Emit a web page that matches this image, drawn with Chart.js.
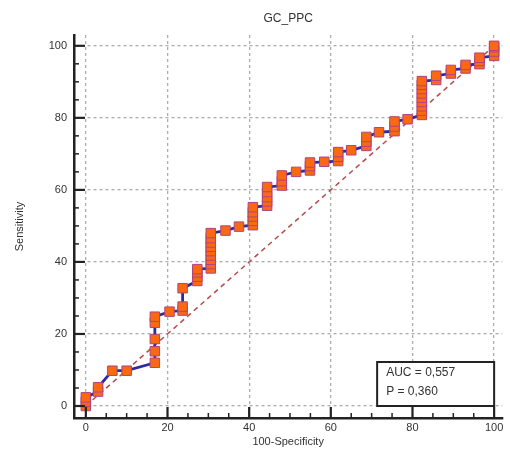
<!DOCTYPE html>
<html>
<head>
<meta charset="utf-8">
<script src="https://cdn.jsdelivr.net/npm/chart.js@4.4.1/dist/chart.umd.min.js"></script>
<style>
  body { margin: 0; background: #fff; }
  canvas { display: block; }
</style>
</head>
<body>
<canvas id="rocChart" width="510" height="455"></canvas>
<script>
// 100-Specificity / Sensitivity pairs
const fpr = [0, 0, 0, 3, 3, 6.5, 10, 16.9, 16.9, 16.9, 16.9, 16.9, 20.5, 23.7, 23.7, 23.7,
    27.3, 27.3, 27.3, 27.3, 30.6, 30.6, 30.6, 30.6, 30.6, 30.6, 30.6, 30.6, 30.6,
    34.2, 37.5, 40.9, 40.9, 40.9, 40.9, 40.9, 44.4, 44.4, 44.4, 44.4, 44.4,
    48, 48, 48, 51.5, 54.9, 54.9, 54.9, 58.4, 61.8, 61.8, 61.8, 65, 68.7, 68.7, 68.7,
    71.8, 75.6, 75.6, 75.6, 78.8, 82.3, 82.3, 82.3, 82.3, 82.3, 82.3, 82.3, 82.3, 82.3,
    85.8, 85.8, 89.4, 89.4, 93, 93, 96.4, 96.4, 96.4, 100, 100, 100, 100];
const sens = [0, 1.2, 2.4, 4.0, 5.2, 9.8, 9.8, 12.0, 15.2, 18.6, 23.1, 24.8, 26.2, 26.5, 27.6, 32.7,
    34.7, 35.9, 37.1, 38.0, 38.2, 39.4, 40.6, 41.8, 43.0, 44.2, 45.4, 46.6, 48.0,
    48.7, 49.8, 50.2, 51.4, 52.6, 53.8, 55.2, 55.6, 56.8, 58.0, 59.4, 60.8,
    61.2, 62.4, 64.0, 65.0, 65.4, 66.6, 67.6, 67.8, 68.0, 69.2, 70.5, 71.0, 72.2, 73.4, 74.7,
    76.0, 76.3, 77.6, 79.0, 79.6, 80.8, 82.0, 83.2, 84.4, 85.6, 86.8, 88.0, 89.2, 90.2,
    90.5, 91.7, 92.3, 93.3, 93.7, 94.7, 94.9, 95.8, 96.7, 97.2, 98.4, 99.6, 100];
const diagX = [0, 100];
const diagY = [0, 100];

const xTicks = [0, 20, 40, 60, 80, 100];
const yTicks = [0, 20, 40, 60, 80, 100];
const chartTitle = 'GC_PPC';
const aucLines = ['AUC = 0,557', 'P = 0,360'];

const FONT = 'Liberation Sans, Arial, sans-serif';
const gridColor = '#adadad';
const axisColor = '#222';

// inward tick marks, major every 20 and minor every 5
const axisTicks = {
    id: 'axisTicks',
    afterDraw(chart) {
        const ctx = chart.ctx;
        const xs = chart.scales.x, ys = chart.scales.y;
        ctx.save();
        ctx.strokeStyle = axisColor;
        for (let v = 0; v <= 100; v += 5) {
            const major = xTicks.includes(v);
            const len = major ? 11 : 5;
            ctx.lineWidth = major ? 2.2 : 1.5;
            const px = xs.getPixelForValue(v);
            ctx.beginPath();
            ctx.moveTo(px, ys.bottom);
            ctx.lineTo(px, ys.bottom - len);
            ctx.stroke();
            const py = ys.getPixelForValue(v);
            ctx.beginPath();
            ctx.moveTo(xs.left, py);
            ctx.lineTo(xs.left + len, py);
            ctx.stroke();
        }
        ctx.restore();
    }
};

// title over the plot area and the AUC box
const extras = {
    id: 'extras',
    afterDraw(chart) {
        const ctx = chart.ctx;
        const area = chart.chartArea;
        const xs = chart.scales.x, ys = chart.scales.y;
        ctx.save();
        ctx.fillStyle = '#333';
        ctx.font = '12px ' + FONT;
        ctx.textAlign = 'center';
        ctx.textBaseline = 'middle';
        ctx.fillText(chartTitle, (area.left + area.right) / 2, 19);

        const right = xs.getPixelForValue(100);
        const bottom = ys.getPixelForValue(0);
        const w = 117, h = 44;
        ctx.fillStyle = '#fff';
        ctx.fillRect(right - w, bottom - h, w, h);
        ctx.strokeStyle = axisColor;
        ctx.lineWidth = 2;
        ctx.strokeRect(right - w, bottom - h, w, h);
        ctx.fillStyle = '#333';
        ctx.font = '12px ' + FONT;
        ctx.textAlign = 'left';
        aucLines.forEach((t, i) => {
            ctx.fillText(t, right - w + 9, bottom - h + 11 + i * 19);
        });
        ctx.restore();
    }
};

const rocPoints = fpr.map((x, i) => ({ x: x, y: sens[i] }));
const diagPoints = diagX.map((x, i) => ({ x: x, y: diagY[i] }));

new Chart(document.getElementById('rocChart').getContext('2d'), {
    type: 'scatter',
    data: {
        datasets: [{
            label: 'ROC',
            data: rocPoints,
            showLine: true,
            borderColor: '#2b2ba6',
            borderWidth: 2.8,
            pointStyle: 'rect',
            pointRadius: 6.7,
            pointBackgroundColor: '#fb6812',
            pointBorderColor: '#b0447c',
            pointBorderWidth: 1,
            tension: 0,
            order: 1
        }, {
            label: 'Reference',
            data: diagPoints,
            showLine: true,
            borderColor: '#b84a4a',
            borderWidth: 1.5,
            borderDash: [5, 4],
            pointRadius: 0,
            order: 2
        }]
    },
    options: {
        responsive: false,
        animation: false,
        layout: { padding: { top: 35, right: 5, left: 0, bottom: 0 } },
        plugins: {
            legend: { display: false },
            tooltip: { enabled: false },
            title: { display: false }
        },
        scales: {
            x: {
                type: 'linear',
                min: -2.9,
                max: 102,
                afterBuildTicks: s => { s.ticks = xTicks.map(v => ({ value: v })); },
                afterFit: s => { s.height = 37; },
                grid: { color: gridColor, lineWidth: 1.3, drawTicks: false },
                border: { display: true, color: axisColor, width: 2.5, dash: [3, 3] },
                ticks: { color: '#333', font: { family: FONT, size: 11 }, padding: 3, maxRotation: 0 },
                title: {
                    display: true, text: '100-Specificity', color: '#333',
                    font: { family: FONT, size: 11 }, padding: { top: 0, bottom: 6 }
                }
            },
            y: {
                type: 'linear',
                min: -3.33,
                max: 103,
                afterBuildTicks: s => { s.ticks = yTicks.map(v => ({ value: v })); },
                afterFit: s => { s.width = 74; },
                grid: { color: gridColor, lineWidth: 1.3, drawTicks: false },
                border: { display: true, color: axisColor, width: 2.5, dash: [3, 3] },
                ticks: { color: '#333', font: { family: FONT, size: 11 }, padding: 7 },
                title: {
                    display: true, text: 'Sensitivity', color: '#333',
                    font: { family: FONT, size: 11 }, padding: { top: 13, bottom: 0 }
                }
            }
        }
    },
    plugins: [axisTicks, extras]
});
</script>
</body>
</html>
